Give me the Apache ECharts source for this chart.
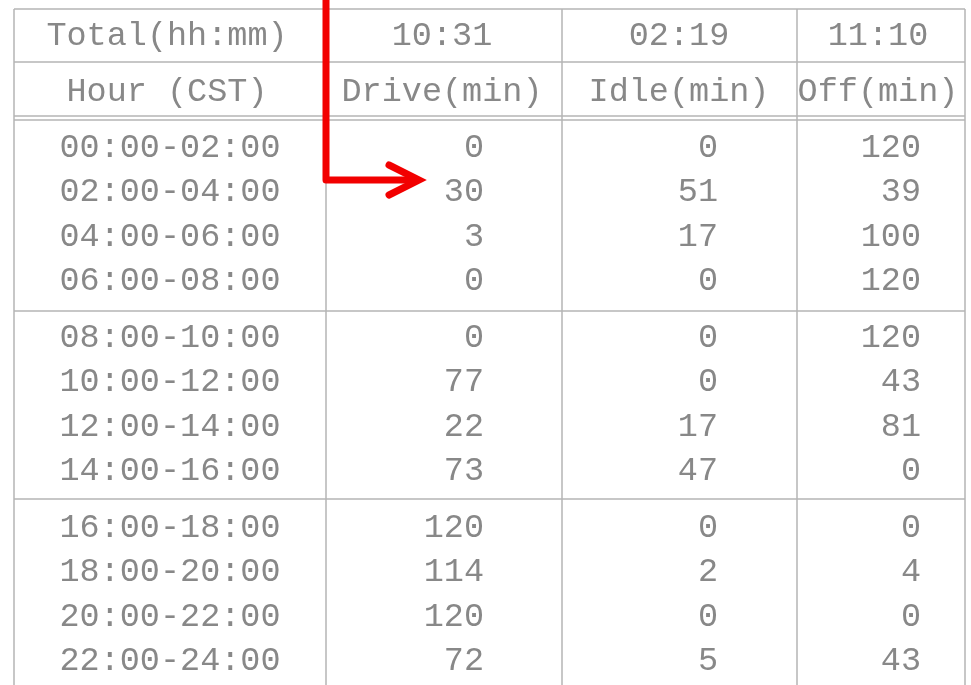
<!DOCTYPE html>
<html>
<head>
    <meta charset="UTF-8">
    <title>Hours of service</title>
    <script src="https://cdn.jsdelivr.net/npm/echarts@6/dist/echarts.min.js"></script>
    <style>
        html, body { margin: 0; padding: 0; background: #fff; }
        #main { width: 971px; height: 685px; }
    </style>
</head>
<body>
<div id="main"></div>
<script type="text/javascript">

    // table data
    var hours = ['00:00-02:00', '02:00-04:00', '04:00-06:00', '06:00-08:00',
        '08:00-10:00', '10:00-12:00', '12:00-14:00', '14:00-16:00',
        '16:00-18:00', '18:00-20:00', '20:00-22:00', '22:00-24:00'];
    var drive = [0, 30, 3, 0, 0, 77, 22, 73, 120, 114, 120, 72];
    var idle = [0, 51, 17, 0, 0, 0, 17, 47, 0, 2, 0, 5];
    var off = [120, 39, 100, 120, 120, 43, 81, 0, 0, 4, 0, 43];
    var totalLabels = ['Total(hh:mm)', '10:31', '02:19', '11:10'];
    var headerLabels = ['Hour (CST)', 'Drive(min)', 'Idle(min)', 'Off(min)'];

    // layout (pixels)
    var W = 971, H = 685;
    var colLines = [14, 326, 562, 797, 965];
    var colCenter = [170, 442, 679, 878];
    var numRight = [0, 484, 718, 921];
    var headY = [36, 92];
    var FONT = '"Liberation Mono", "DejaVu Sans Mono", monospace';
    var TEXT_COLOR = '#888888';
    var LINE_COLOR = '#b4b4b4';

    function rowY(i) {
        return 148 + i * 44.4 + Math.floor(i / 4) * 12.5;
    }

    function textSeries(points, labels, align) {
        return {
            type: 'custom',
            coordinateSystem: 'cartesian2d',
            data: points,
            silent: true,
            renderItem: function (params, api) {
                var p = api.coord([api.value(0), api.value(1)]);
                return {
                    type: 'text',
                    x: p[0],
                    y: p[1],
                    style: {
                        text: String(labels[params.dataIndex]),
                        fill: TEXT_COLOR,
                        font: '33.5px ' + FONT,
                        align: align,
                        verticalAlign: 'middle'
                    }
                };
            }
        };
    }

    function colPoints(arr, x) {
        return arr.map(function (v, i) { return [x, rowY(i)]; });
    }

    var series = [
        textSeries(totalLabels.map(function (t, c) { return [colCenter[c] - (c === 0 ? 3 : 0), headY[0]]; }), totalLabels, 'center'),
        textSeries(headerLabels.map(function (t, c) { return [colCenter[c] - (c === 0 ? 3 : 0), headY[1]]; }), headerLabels, 'center'),
        textSeries(colPoints(hours, colCenter[0]), hours, 'center'),
        textSeries(colPoints(drive, numRight[1]), drive, 'right'),
        textSeries(colPoints(idle, numRight[2]), idle, 'right'),
        textSeries(colPoints(off, numRight[3]), off, 'right')
    ];

    // table rules
    var graphics = [];
    function hLine(y) {
        graphics.push({
            type: 'line', silent: true,
            shape: {x1: colLines[0], y1: y, x2: colLines[4], y2: y},
            style: {stroke: LINE_COLOR, lineWidth: 1.5}
        });
    }
    [9, 62, 116, 120, 311, 499].forEach(hLine);
    colLines.forEach(function (x) {
        graphics.push({
            type: 'line', silent: true,
            shape: {x1: x, y1: 9, x2: x, y2: H},
            style: {stroke: LINE_COLOR, lineWidth: 1.5}
        });
    });

    // red callout arrow
    graphics.push({
        type: 'polyline', silent: true, z: 10,
        shape: {points: [[326, 0], [326, 180], [414, 180]]},
        style: {stroke: '#f20000', lineWidth: 7, fill: null, lineJoin: 'round'}
    });
    graphics.push({
        type: 'polyline', silent: true, z: 10,
        shape: {points: [[389, 165], [419, 180], [389, 195]]},
        style: {stroke: '#f20000', lineWidth: 7, fill: null, lineCap: 'round', lineJoin: 'miter'}
    });

    var myChart = echarts.init(document.getElementById('main'));
    var option = {
        animation: false,
        backgroundColor: '#fff',
        grid: {left: 0, right: 0, top: 0, bottom: 0},
        xAxis: {type: 'value', min: 0, max: W, show: false},
        yAxis: {type: 'value', min: 0, max: H, inverse: true, show: false},
        graphic: graphics,
        series: series
    };
    myChart.setOption(option);

</script>
</body>
</html>
